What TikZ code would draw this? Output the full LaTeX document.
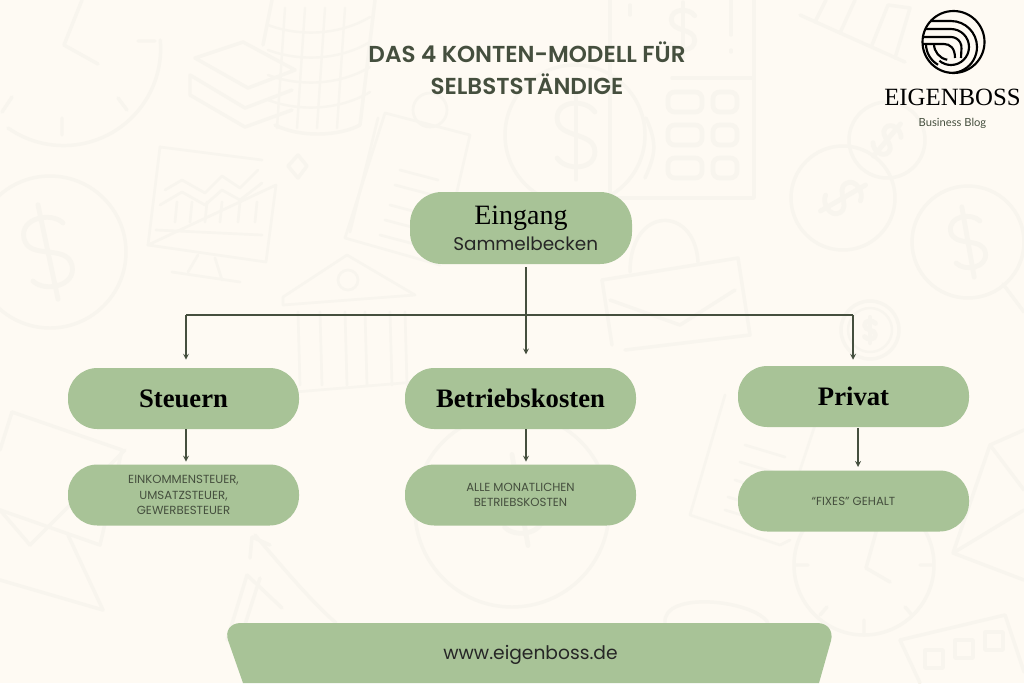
\documentclass[tikz,border=0pt]{standalone}
\usepackage{fontspec}
\usetikzlibrary{positioning, calc}
\setmainfont{Liberation Serif}
\newfontfamily\popfont{Poppins}
\newfontfamily\titlefont{Poppins SemiBold}
\newfontfamily\latofont{Lato}
\definecolor{paper}{HTML}{FEFAF3}
\definecolor{faint}{HTML}{F8F5EE}
\definecolor{sage}{HTML}{A8C397}
\definecolor{moss}{HTML}{454F3E}
\def\px{0.75pt}
\tikzset{
  pill/.style={
    rectangle,
    fill=sage,
    rounded corners=22pt,
    minimum width=173.25pt,
    minimum height=45.75pt,
    inner sep=0pt,
    align=center
  },
  head/.style={pill, font=\fontsize{20}{22}\selectfont\bfseries, text=black},
  detail/.style={pill, font=\popfont\fontsize{8.8}{11.8}\selectfont, text=moss},
  link/.style={draw=moss, line width=0.95pt},
  ghost/.style={draw=faint, line width=2.6pt, line cap=round, line join=round},
  dollar/.pic={
    \draw[ghost, line width=3.6pt] (18,-22) .. controls (10,-34) and (-18,-34) .. (-18,-16)
      .. controls (-18,4) and (18,-4) .. (18,16)
      .. controls (18,34) and (-10,34) .. (-18,22);
    \draw[ghost, line width=3.6pt] (0,-42) -- (0,42);
  }
}

\begin{document}
\begin{tikzpicture}[x=0.75pt, y=-0.75pt, >=stealth]
        \useasboundingbox (0,0) rectangle (1024,683);
        \fill[paper] (0,0) rectangle (1024,683);

        % Clock top left
        \draw[ghost] (8,128) arc[start angle=235, end angle=365, radius=97*\px];
        \draw[ghost] (82,0) -- (64,45) -- (98,64);
        \draw[ghost] (138,41) -- (155,41) (62,118) -- (62,135) (118,98) -- (127,110) (12,97) -- (2,112);

        % Coin stack and bills
        \draw[ghost] (272,0) -- (263,45) (375,0) -- (360,125) (275,125) .. controls (300,138) and (340,136) .. (360,125);
        \foreach \xa in {285,305,325,345} \draw[ghost, line width=1.8pt] (\xa,8) -- (\xa-8,128);
        \foreach \ya in {25,50,75,100} \draw[ghost, line width=1.8pt] (268,\ya) .. controls (300,\ya+12) and (340,\ya+10) .. (370,\ya-8);
        \draw[ghost] (195,58) -- (243,42) -- (295,70) -- (248,88) -- cycle;
        \draw[ghost] (190,75) -- (245,108) -- (292,90) (190,75) -- (190,95) -- (245,127) -- (292,110);

        % Monitor
        \draw[ghost, line width=2pt] (160,147) -- (262,160) (276,185) -- (266,262) -- (148,245) -- cycle;
        \draw[ghost, line width=2pt] (160,147) -- (148,245) (156,230) -- (262,235);
        \draw[ghost, line width=2pt] (165,190) -- (182,180) -- (205,193) -- (222,176) -- (240,188) -- (258,170);
        \draw[ghost, line width=2pt] (160,205) -- (182,192) -- (205,205) -- (222,190) -- (240,200) -- (262,183);
        \foreach \xa in {177,192,207,222,240,257} \draw[ghost, line width=2pt] (\xa,202) -- (\xa-2,222);
        \draw[ghost, line width=2pt] (198,255) -- (188,272) (215,258) -- (222,280) (172,272) -- (240,282);
        \draw[ghost] (298,155) -- (307,166) -- (298,178) -- (288,166) -- cycle;

        % Dollar coins
        \draw[ghost] (50,252) circle[radius=76*\px];
        \pic[rotate=12, scale=1.15] at (48,252) {dollar};
        \draw[ghost] (575,135) circle[radius=70*\px];
        \draw[ghost] (646,118) .. controls (658,145) and (655,155) .. (645,178);
        \pic[scale=1.05] at (576,135) {dollar};
        \draw[ghost] (843,198) circle[radius=52*\px];
        \pic[rotate=-60, scale=.62] at (843,198) {dollar};
        \draw[ghost] (887,140) circle[radius=38*\px];
        \pic[rotate=-40, scale=.5] at (887,140) {dollar};
        \draw[ghost] (968,242) circle[radius=56*\px];
        \pic[rotate=10, scale=.85] at (968,242) {dollar};
        \draw[ghost] (1003,284) -- (1024,312);
        \draw[ghost] (870,330) circle[radius=29*\px];
        \draw[ghost, line width=1.8pt] (870,330) circle[radius=22*\px];
        \pic[scale=.3] at (870,330) {dollar};

        % Calculator
        \draw[ghost] (610,0) -- (610,198) -- (754,198) -- (754,0) (672,78) -- (754,78);
        \pic[scale=.65] at (683,30) {dollar};
        \draw[ghost] (630,5) -- (630,15) (731,0) -- (731,35) (731,50) -- (731,52);
        \foreach \ya in {92,125,158} {
          \draw[ghost, rounded corners=5pt, line width=3.5pt] (668,\ya) rectangle (702,\ya+20);
          \draw[ghost, rounded corners=5pt, line width=3.5pt] (713,\ya) rectangle (737,\ya+20);
        }
        \draw[ghost] (800,15) -- (905,62);
        \draw[ghost] (815,22) -- (826,0) (840,33) -- (855,0) (872,45) -- (888,5) -- (910,8) -- (895,58);

        % Notebook
        \draw[ghost, line width=2pt] (385,113) -- (470,135) -- (440,265) -- (345,238) -- cycle;
        \draw[ghost, line width=2pt] (378,118) -- (350,232);
        \draw[ghost, line width=2pt] (430,110) circle[radius=17*\px];
        \foreach \ya/\xa in {170/400, 185/395, 205/390, 220/385, 235/380} \draw[ghost, line width=2pt] (\xa,\ya) -- (\xa+38,\ya+10);

        % Bank
        \draw[ghost, line width=2pt] (283,297) -- (347,255) -- (415,295) -- (283,305) -- cycle;
        \draw[ghost, line width=2pt] (348,280) circle[radius=10*\px];
        \foreach \xa in {298,320,345,365,390,405} \draw[ghost, line width=2pt] (\xa,312) -- (\xa+2,385);
        \draw[ghost, line width=2pt] (295,392) -- (415,382);

        % Briefcase
        \draw[ghost] (602,280) -- (738,258) -- (750,335) -- (625,350);
        \draw[ghost] (602,280) -- (612,345) (610,300) -- (680,325) -- (735,290);
        \draw[ghost] (630,272) .. controls (630,205) and (695,205) .. (698,262);

        % Envelope left and big dollar
        \draw[ghost] (12,412) -- (122,450) -- (100,545) -- (0,510);
        \draw[ghost] (12,412) -- (0,450) (30,545) -- (125,450);
        \draw[ghost] (30,545) -- (0,510) (68,535) -- (103,610) -- (0,580);
        \draw[ghost] (512,510) circle[radius=97*\px];
        \pic[rotate=10, scale=1.1] at (520,500) {dollar};
        \draw[ghost] (255,535) .. controls (285,570) and (310,600) .. (336,623) (252,537) -- (250,558) (252,537) -- (270,545);
        \draw[ghost] (247,575) -- (227,640) (260,578) -- (240,640) (247,575) -- (282,608);

        % Second notebook
        \draw[ghost, line width=2pt] (725,395) -- (690,515) (690,515) -- (780,545) -- (790,540) (815,425) -- (800,470);
        \foreach \ya/\xa in {445/745, 462/740, 480/735, 497/728, 510/725} \draw[ghost, line width=2pt] (\xa,\ya) -- (\xa+40,\ya+12);

        % Clock bottom right
        \draw[ghost] (864,565) circle[radius=70*\px];
        \draw[ghost] (878,525) -- (866,568) -- (890,582) (795,565) -- (808,565) (920,565) -- (932,565) (864,620) -- (864,635) (820,615) -- (827,607) (905,607) -- (912,615);

        % Envelope right and keypad
        \draw[ghost] (1024,430) -- (990,445) -- (953,553) -- (1024,580) (953,553) -- (1024,510) (990,445) -- (1024,490);
        \draw[ghost] (900,640) -- (1005,615) -- (1024,672) (900,640) -- (920,683);
        \foreach \xa/\ya in {925/650, 955/640, 985/632} \draw[ghost] (\xa,\ya) rectangle +(18,18);

        % Cup near the footer
        \draw[ghost] (665,623) .. controls (662,590) and (755,600) .. (768,623);

        % Title and logo
        \node[font=\titlefont\fontsize{17.3}{24}\selectfont, text=moss, align=center] (title) at (527,68.5)
          {DAS 4 KONTEN-MODELL FÜR\\SELBSTSTÄNDIGE};
        \node[circle, draw=black, line width=1.6pt, minimum size=46.5pt, inner sep=0pt] (logo) at (953.5,42) {};
        \begin{scope}
          \clip (953.5,42) circle[radius=31*\px];
          \draw[line width=1.6pt] (920,21) -- (951,21) arc[start angle=90, end angle=-115, radius=26*\px];
          \draw[line width=1.6pt] (920,29) -- (951,29) arc[start angle=90, end angle=-130, radius=18*\px];
          \draw[line width=1.6pt] (920,37) -- (951,37) arc[start angle=90, end angle=-5, radius=10.5*\px] -- (961,58);
          \draw[line width=1.6pt] (920,44) -- (944,44) .. controls (950,44) and (955,48) .. (955,58);
          \draw[line width=1.6pt] (926,44) arc[start angle=180, end angle=240, radius=24*\px];
          \draw[line width=1.6pt] (934,44) arc[start angle=180, end angle=260, radius=16*\px];
        \end{scope}
        \node[font=\fontsize{18.6}{20}\selectfont, text=black] (brand) at (952.5,97) {EIGENBOSS};
        \node[font=\latofont\fontsize{8.4}{10}\selectfont, text=moss] (blog) [below=2.5pt of brand] {Business Blog};

        % Boxes
        \node[pill, minimum width=166.5pt, minimum height=54pt, rounded corners=24pt] (eingang) at (521,228)
          {{\fontsize{21}{22}\selectfont Eingang}\\[4pt]{\hspace*{7pt}\popfont\fontsize{13.8}{15}\selectfont\color{black!85}Sammelbecken}};
        \node[head] (steuern) at (183.5,398.5) {Steuern};
        \node[head] (betrieb) at (520.5,398.5) {Betriebskosten};
        \node[head] (privat) at (853.5,396.5) {Privat};
        \node[detail] (steuerdetail) at (183.5,495) {EINKOMMENSTEUER,\\UMSATZSTEUER,\\GEWERBESTEUER};
        \node[detail] (betriebdetail) at (520.5,495) {ALLE MONATLICHEN\\BETRIEBSKOSTEN};
        \node[detail] (privatdetail) at (853.5,501) {“FIXES” GEHALT};

        % Footer
        \fill[sage] (243,683) [rounded corners=14pt] -- (222,623) -- (836,623) [sharp corners] -- (819,683) -- cycle;
        \node[font=\popfont\fontsize{14}{15}\selectfont, text=black!85] (web) at (530.5,655) {www.eigenboss.de};

        % Connectors
        \coordinate (hub) at (526,315);
        \coordinate (hubleft) at (186,315);
        \coordinate (hubright) at (853,315);
        \draw[link] (hub |- eingang.south) ++(0,3) -- (hub);
        \draw[link] (hubleft) -- (hubright);
        \draw[link, ->, shorten >=6pt] (hubleft) -- (hubleft |- steuern.north);
        \draw[link, ->, shorten >=10pt] (hub) -- (hub |- betrieb.north);
        \draw[link, ->, shorten >=4.5pt] (hubright) -- (hubright |- privat.north);
        \draw[link, ->, shorten >=2pt] (hubleft |- steuern.south) -- (hubleft |- steuerdetail.north);
        \draw[link, ->, shorten >=2pt] (hub |- betrieb.south) -- (hub |- betriebdetail.north);
        \draw[link, ->, shorten >=2.5pt] ([xshift=3.4pt]privat.south) ++(0,1) -- ([xshift=3.4pt]privatdetail.north);
    \end{tikzpicture}
\end{document}
